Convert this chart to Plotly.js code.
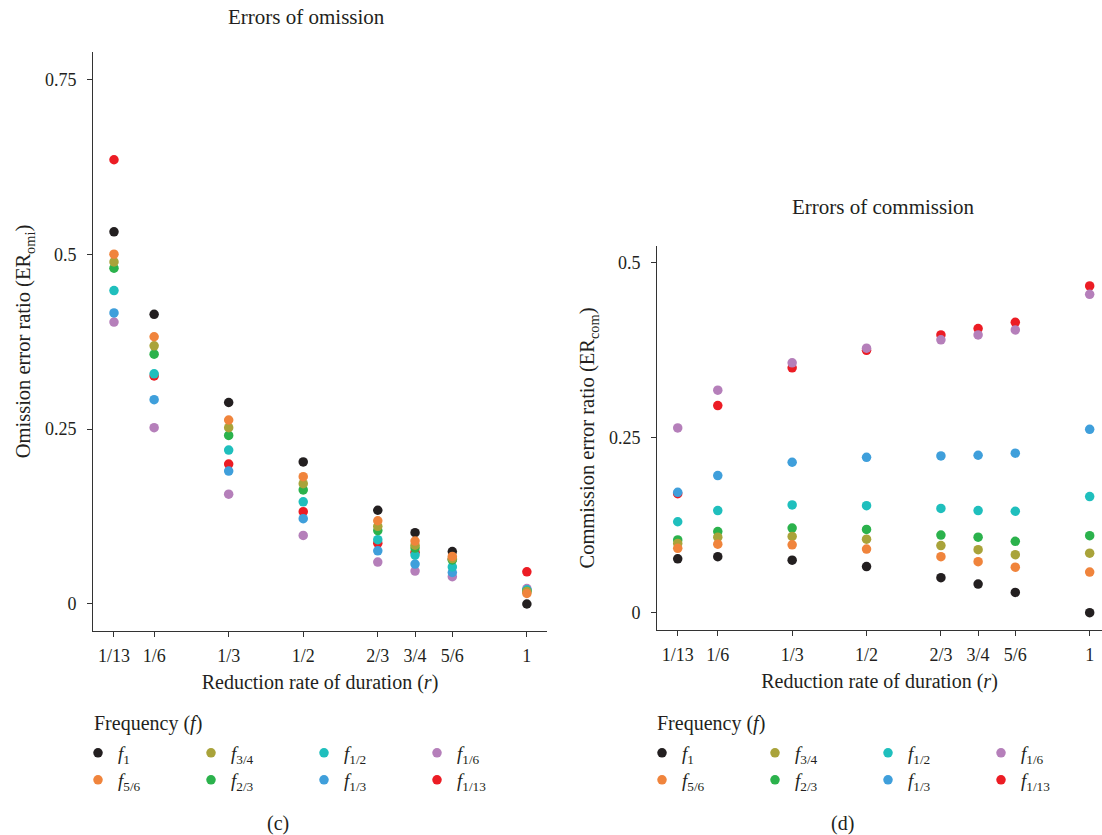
<!DOCTYPE html>
<html><head><meta charset="utf-8">
<script src="https://cdn.plot.ly/plotly-3.0.1.min.js"></script>
<style>html,body{margin:0;padding:0;background:#fff}#chart{width:1102px;height:835px}</style>
</head><body><div id="chart"></div>
<script>
// x categories: reduction rate of duration r
const rValues = [1/13, 1/6, 1/3, 1/2, 2/3, 3/4, 5/6, 1];
const rLabels = ['1/13', '1/6', '1/3', '1/2', '2/3', '3/4', '5/6', '1'];

// frequency series (draw order)
const freqKeys   = ['f1_13', 'f1', 'f1_6', 'f1_3', 'f1_2', 'f2_3', 'f3_4', 'f5_6'];
const freqNames  = {f1:'<i>f</i><sub>1</sub>', f5_6:'<i>f</i><sub>5/6</sub>', f3_4:'<i>f</i><sub>3/4</sub>', f2_3:'<i>f</i><sub>2/3</sub>',
                    f1_2:'<i>f</i><sub>1/2</sub>', f1_3:'<i>f</i><sub>1/3</sub>', f1_6:'<i>f</i><sub>1/6</sub>', f1_13:'<i>f</i><sub>1/13</sub>'};
const freqColors = {f1:'#231f20', f5_6:'#f0843c', f3_4:'#a9a33a', f2_3:'#2bb24c', f1_2:'#1fbfbd', f1_3:'#3f9fdb', f1_6:'#b57fba', f1_13:'#ec1c24'};
// legend layout: row 1 and row 2, left to right
const legendRow1 = ['f1', 'f3_4', 'f1_2', 'f1_6'];
const legendRow2 = ['f5_6', 'f2_3', 'f1_3', 'f1_13'];

// Errors of omission (ER_omi)
const omission_f1    = [0.532, 0.414, 0.288, 0.203, 0.134, 0.102, 0.075, 0.000];
const omission_f5_6  = [0.500, 0.382, 0.263, 0.182, 0.119, 0.090, 0.068, 0.015];
const omission_f3_4  = [0.489, 0.369, 0.252, 0.172, 0.111, 0.084, 0.065, 0.018];
const omission_f2_3  = [0.480, 0.357, 0.241, 0.163, 0.105, 0.080, 0.063, 0.018];
const omission_f1_2  = [0.448, 0.329, 0.220, 0.146, 0.092, 0.070, 0.053, 0.020];
const omission_f1_3  = [0.416, 0.292, 0.190, 0.122, 0.076, 0.057, 0.045, 0.020];
const omission_f1_6  = [0.403, 0.252, 0.157, 0.098, 0.060, 0.047, 0.039, 0.022];
const omission_f1_13 = [0.635, 0.326, 0.200, 0.132, 0.087, 0.074, 0.064, 0.046];

// Errors of commission (ER_com)
const commission_f1    = [0.077, 0.080, 0.075, 0.066, 0.050, 0.041, 0.029, 0.000];
const commission_f5_6  = [0.092, 0.098, 0.097, 0.091, 0.080, 0.073, 0.065, 0.058];
const commission_f3_4  = [0.099, 0.108, 0.109, 0.105, 0.096, 0.090, 0.083, 0.085];
const commission_f2_3  = [0.104, 0.116, 0.121, 0.119, 0.111, 0.108, 0.102, 0.110];
const commission_f1_2  = [0.130, 0.146, 0.154, 0.153, 0.149, 0.146, 0.145, 0.166];
const commission_f1_3  = [0.172, 0.196, 0.215, 0.222, 0.224, 0.225, 0.228, 0.262];
const commission_f1_6  = [0.264, 0.318, 0.357, 0.378, 0.390, 0.397, 0.404, 0.455];
const commission_f1_13 = [0.170, 0.296, 0.350, 0.375, 0.397, 0.406, 0.415, 0.467];

const yTicksOmi = [0, 0.25, 0.5, 0.75];
const yLabelsOmi = ['0', '0.25', '0.5', '0.75'];
const yTicksCom = [0, 0.25, 0.5];
const yLabelsCom = ['0', '0.25', '0.5'];

const omission = {f1:omission_f1, f5_6:omission_f5_6, f3_4:omission_f3_4, f2_3:omission_f2_3,
                  f1_2:omission_f1_2, f1_3:omission_f1_3, f1_6:omission_f1_6, f1_13:omission_f1_13};
const commission = {f1:commission_f1, f5_6:commission_f5_6, f3_4:commission_f3_4, f2_3:commission_f2_3,
                    f1_2:commission_f1_2, f1_3:commission_f1_3, f1_6:commission_f1_6, f1_13:commission_f1_13};

const FONT = 'Liberation Serif, DejaVu Serif, serif';
const INK = '#231f20';
const W = 1102, H = 835;
const px = v => v / W;
const py = v => 1 - v / H;

const traces = [];
function addTraces(data, xa, ya, leg1, leg2) {
  freqKeys.forEach(k => {
    const inRow1 = legendRow1.indexOf(k);
    const rank = inRow1 >= 0 ? inRow1 + 1 : legendRow2.indexOf(k) + 1;
    traces.push({
      type: 'scatter', mode: 'markers',
      x: rValues, y: data[k], xaxis: xa, yaxis: ya,
      name: freqNames[k],
      legend: inRow1 >= 0 ? leg1 : leg2,
      legendrank: rank,
      marker: {color: freqColors[k], size: 9.5, line: {width: 0}},
      hoverinfo: 'x+y+name'
    });
  });
}
addTraces(omission, 'x', 'y', 'legend', 'legend2');
addTraces(commission, 'x2', 'y2', 'legend3', 'legend4');

const axisCommon = {
  showline: true, linecolor: '#333', linewidth: 1,
  ticks: 'outside', ticklen: 5, tickwidth: 1, tickcolor: '#333',
  showgrid: false, zeroline: false,
  tickfont: {family: FONT, size: 18, color: INK},
  tickmode: 'array'
};
const xTitleFont = {family: FONT, size: 20, color: INK};
const yTitleFont = {family: FONT, size: 20.5, color: INK};

function legendCfg(xPx, yPx) {
  return {
    orientation: 'h', x: px(xPx - 20), xanchor: 'left', y: py(yPx), yanchor: 'middle',
    entrywidth: 68, entrywidthmode: 'pixels', traceorder: 'normal',
    bgcolor: 'rgba(0,0,0,0)', borderwidth: 0,
    font: {family: FONT, size: 19, color: INK}
  };
}

const layout = {
  width: W, height: H,
  margin: {l: 0, r: 0, t: 0, b: 0},
  paper_bgcolor: '#fff', plot_bgcolor: '#fff',
  font: {family: FONT, size: 18, color: INK},
  showlegend: true,
  xaxis: Object.assign({}, axisCommon, {
    domain: [px(93), px(547)], range: [0.030, 1.045], anchor: 'y',
    tickvals: rValues, ticktext: rLabels, ticklabelstandoff: 3,
    title: {text: 'Reduction rate of duration (<i>r</i>)', font: xTitleFont, standoff: 10}
  }),
  yaxis: Object.assign({}, axisCommon, {
    domain: [py(631), py(52)], range: [-0.0386, 0.789], anchor: 'x',
    tickvals: yTicksOmi, ticktext: yLabelsOmi, ticklabelstandoff: 7,
    title: {text: 'Omission error ratio (ER<sub>omi</sub>)', font: yTitleFont, standoff: 8}
  }),
  xaxis2: Object.assign({}, axisCommon, {
    domain: [px(657), 1], range: [0.0305, 1.0276], anchor: 'y2',
    tickvals: rValues, ticktext: rLabels, ticklabelstandoff: 3,
    title: {text: 'Reduction rate of duration (<i>r</i>)', font: xTitleFont, standoff: 10}
  }),
  yaxis2: Object.assign({}, axisCommon, {
    domain: [py(630), py(246)], range: [-0.0247, 0.524], anchor: 'x2',
    tickvals: yTicksCom, ticktext: yLabelsCom, ticklabelstandoff: 7,
    title: {text: 'Commission error ratio (ER<sub>com</sub>)', font: yTitleFont, standoff: 8}
  }),
  legend: legendCfg(98, 753),
  legend2: legendCfg(98, 780),
  legend3: legendCfg(662, 753),
  legend4: legendCfg(662, 780),
  annotations: [
    {text: 'Errors of omission', x: px(306), y: py(17), xref: 'paper', yref: 'paper', xanchor: 'center', yanchor: 'middle', showarrow: false, font: {family: FONT, size: 21, color: INK}},
    {text: 'Errors of commission', x: px(883), y: py(207), xref: 'paper', yref: 'paper', xanchor: 'center', yanchor: 'middle', showarrow: false, font: {family: FONT, size: 21, color: INK}},
    {text: 'Frequency (<i>f</i>)', x: px(92), y: py(723), xref: 'paper', yref: 'paper', xanchor: 'left', yanchor: 'middle', showarrow: false, font: {family: FONT, size: 20, color: INK}},
    {text: 'Frequency (<i>f</i>)', x: px(655), y: py(723), xref: 'paper', yref: 'paper', xanchor: 'left', yanchor: 'middle', showarrow: false, font: {family: FONT, size: 20, color: INK}},
    {text: '(c)', x: px(278), y: py(823), xref: 'paper', yref: 'paper', xanchor: 'center', yanchor: 'middle', showarrow: false, font: {family: FONT, size: 20, color: INK}},
    {text: '(d)', x: px(842), y: py(823), xref: 'paper', yref: 'paper', xanchor: 'center', yanchor: 'middle', showarrow: false, font: {family: FONT, size: 20, color: INK}}
  ]
};

Plotly.newPlot('chart', traces, layout, {displayModeBar: false, staticPlot: true});
</script>
</body></html>
